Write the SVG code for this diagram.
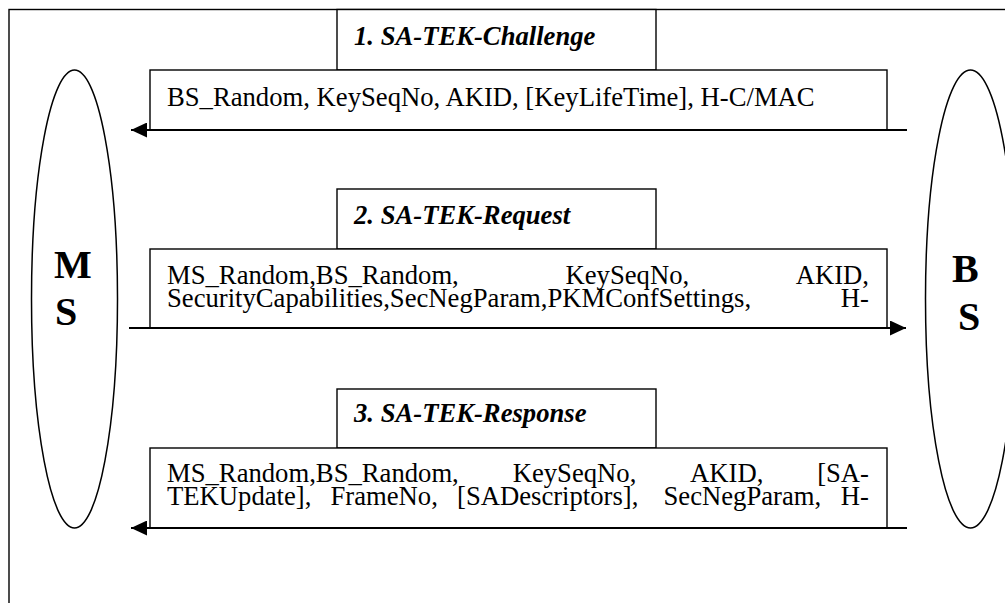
<svg xmlns="http://www.w3.org/2000/svg" width="1005" height="603" viewBox="0 0 1005 603">
  <style>
    .frame { fill: none; stroke: #000; stroke-width: 1.4; }
    .box { fill: #fff; stroke: #000; stroke-width: 1.4; }
    .party { fill: none; stroke: #000; stroke-width: 1.5; }
    .msg { stroke: #000; stroke-width: 2.2; fill: none; }
    .title { font-family: "Liberation Serif", "Times New Roman", serif; font-size: 26.67px; font-weight: bold; font-style: italic; fill: #000; }
    .body { font-family: "Liberation Serif", "Times New Roman", serif; font-size: 26.67px; fill: #000; }
    .big { font-family: "Liberation Serif", "Times New Roman", serif; font-size: 40px; font-weight: bold; fill: #000; }
  </style>
  <defs>
    <marker id="head" viewBox="0 0 16 15" refX="16" refY="7.5" markerWidth="16" markerHeight="15" markerUnits="userSpaceOnUse" orient="auto">
      <path d="M0,0 L16,7.5 L0,15 Z" fill="#000"/>
    </marker>
  </defs>

  <rect width="1005" height="603" fill="#fff"/>

  <!-- outer frame, open to the right and bottom -->
  <rect class="frame" x="9" y="9.5" width="1010" height="610"/>

  <!-- mobile station -->
  <g id="node-ms">
    <ellipse class="party" cx="74.5" cy="299" rx="43" ry="229"/>
    <text class="big" x="54" y="278">M</text>
    <text class="big" x="55" y="325">S</text>
  </g>

  <!-- base station -->
  <g id="node-bs">
    <ellipse class="party" cx="970.5" cy="299" rx="45" ry="229"/>
    <text class="big" x="952" y="282">B</text>
    <text class="big" x="958" y="330">S</text>
  </g>

  <!-- message 1 -->
  <g id="node-challenge">
    <rect class="box" x="337" y="9.5" width="319" height="60.5"/>
    <text class="title" x="354" y="44.5">1. SA-TEK-Challenge</text>
    <rect class="box" x="150" y="70" width="737" height="60"/>
    <text class="body" x="167" y="106">BS_Random, KeySeqNo, AKID, [KeyLifeTime], H-C/MAC</text>
  </g>

  <!-- message 2 -->
  <g id="node-request">
    <rect class="box" x="337" y="189" width="319" height="60"/>
    <text class="title" x="354" y="223.5">2. SA-TEK-Request</text>
    <rect class="box" x="150" y="249" width="737" height="79"/>
    <text class="body" y="283.5">
      <tspan x="167">MS_Random,BS_Random,</tspan>
      <tspan x="565.5">KeySeqNo,</tspan>
      <tspan x="869" text-anchor="end">AKID,</tspan>
    </text>
    <text class="body" y="306.5">
      <tspan x="167">SecurityCapabilities,SecNegParam,PKMConfSettings,</tspan>
      <tspan x="869" text-anchor="end">H-</tspan>
    </text>
  </g>

  <!-- message 3 -->
  <g id="node-response">
    <rect class="box" x="337" y="389" width="319" height="59"/>
    <text class="title" x="354" y="422">3. SA-TEK-Response</text>
    <rect class="box" x="150" y="448" width="737" height="80"/>
    <text class="body" y="482">
      <tspan x="167">MS_Random,BS_Random,</tspan>
      <tspan x="512.7">KeySeqNo,</tspan>
      <tspan x="690">AKID,</tspan>
      <tspan x="869" text-anchor="end">[SA-</tspan>
    </text>
    <text class="body" y="505">
      <tspan x="167">TEKUpdate],</tspan>
      <tspan x="330.5">FrameNo,</tspan>
      <tspan x="457">[SADescriptors],</tspan>
      <tspan x="663.5">SecNegParam,</tspan>
      <tspan x="869" text-anchor="end">H-</tspan>
    </text>
  </g>

  <!-- connectors -->
  <g id="connectors">
    <line class="msg" x1="907" y1="130" x2="131" y2="130" marker-end="url(#head)"/>
    <line class="msg" x1="129" y1="328" x2="906" y2="328" marker-end="url(#head)"/>
    <line class="msg" x1="907" y1="528" x2="131" y2="528" marker-end="url(#head)"/>
  </g>
</svg>
